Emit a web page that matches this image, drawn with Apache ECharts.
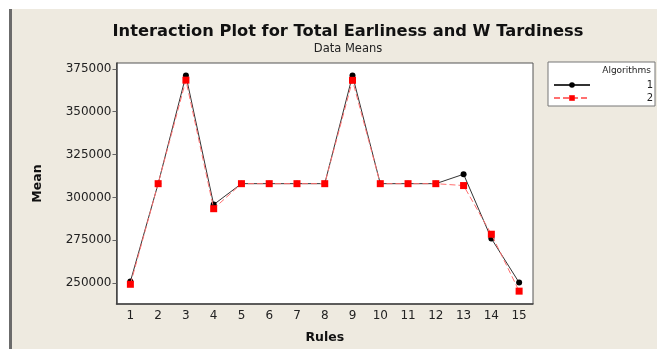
<!DOCTYPE html>
<html><head><meta charset="utf-8">
<script src="https://cdn.jsdelivr.net/npm/echarts@6/dist/echarts.min.js"></script>
<style>html,body{margin:0;padding:0;background:#fff}#c{width:660px;height:349px}</style>
</head><body><div id="c"></div>
<script>
var rules = ['1','2','3','4','5','6','7','8','9','10','11','12','13','14','15'];
var algo1 = [250900, 308000, 371100, 295800, 308000, 308000, 308000, 308000, 371100, 308000, 308000, 308000, 313500, 276000, 250300];
var algo2 = [249300, 308000, 368400, 293400, 308000, 308000, 308000, 308000, 368300, 308000, 308000, 308000, 306900, 278500, 245300];
var yTicks = [250000, 275000, 300000, 325000, 350000, 375000];
var seriesNames = ['1', '2'];

var chart = echarts.init(document.getElementById('c'), null, {renderer: 'canvas'});
var font = 'DejaVu Sans';
chart.setOption({
  backgroundColor: '#ffffff',
  animation: false,
  graphic: [
    {type: 'rect', z: -10, shape: {x: 9, y: 9, width: 648, height: 340}, style: {fill: '#EEEAE0'}},
    {type: 'rect', z: -9, shape: {x: 9, y: 9, width: 3, height: 340}, style: {fill: '#6b6b6b'}},
    {type: 'rect', z: -9, shape: {x: 548, y: 62, width: 107, height: 44}, style: {fill: '#ffffff', stroke: '#777', lineWidth: 1}},
    {type: 'text', z: 5, style: {x: 651, y: 66, text: 'Algorithms', align: 'right', verticalAlign: 'top', font: '9px "DejaVu Sans"', fill: '#222'}}
  ],
  title: {
    text: 'Interaction Plot for Total Earliness and W Tardiness',
    subtext: 'Data Means',
    left: 343, top: 19, textAlign: 'center',
    itemGap: 3,
    textStyle: {fontFamily: font, fontSize: 16.3, fontWeight: 'bold', color: '#111'},
    subtextStyle: {fontFamily: font, fontSize: 11.5, color: '#222'}
  },
  legend: {
    data: seriesNames,
    orient: 'vertical',
    left: 548, top: 75,
    itemWidth: 36, itemHeight: 7, itemGap: 3,
    formatter: '{a|{name}}',
    textStyle: {fontFamily: font, fontSize: 10, color: '#222',
      rich: {a: {fontFamily: font, fontSize: 10, color: '#222', width: 58, align: 'right'}}}
  },
  grid: {left: 116.5, right: 127, top: 63, bottom: 35, show: true, backgroundColor: '#fff', borderColor: '#555', borderWidth: 1},
  xAxis: {
    type: 'category', data: rules, boundaryGap: true,
    name: 'Rules', nameLocation: 'middle', nameGap: 27,
    nameTextStyle: {fontFamily: font, fontSize: 12.5, fontWeight: 'bold', color: '#111'},
    axisLine: {lineStyle: {color: '#444', width: 1.5}},
    axisTick: {alignWithLabel: true, length: 4, lineStyle: {color: '#666'}},
    axisLabel: {fontFamily: font, fontSize: 12, color: '#222', margin: 6}
  },
  yAxis: {
    type: 'value', min: 237800, max: 378400,
    name: 'Mean', nameLocation: 'middle', nameGap: 72,
    nameTextStyle: {fontFamily: font, fontSize: 12.5, fontWeight: 'bold', color: '#111'},
    splitLine: {show: false},
    axisLine: {show: true, lineStyle: {color: '#444', width: 1.5}},
    axisTick: {show: true, length: 4, customValues: yTicks, lineStyle: {color: '#666'}},
    axisLabel: {fontFamily: font, fontSize: 12, color: '#222', margin: 5, customValues: yTicks,
      formatter: function (v) { return String(v); }}
  },
  series: [
    {name: seriesNames[0], type: 'line', data: algo1, symbol: 'circle', symbolSize: 6,
     itemStyle: {color: '#000'}, lineStyle: {color: '#333', width: 1}, z: 3},
    {name: seriesNames[1], type: 'line', data: algo2, symbol: 'rect', symbolSize: 7,
     itemStyle: {color: '#ff0000'}, lineStyle: {color: '#ff7070', width: 1, type: [6, 3]}, z: 4}
  ]
});
</script></body></html>
